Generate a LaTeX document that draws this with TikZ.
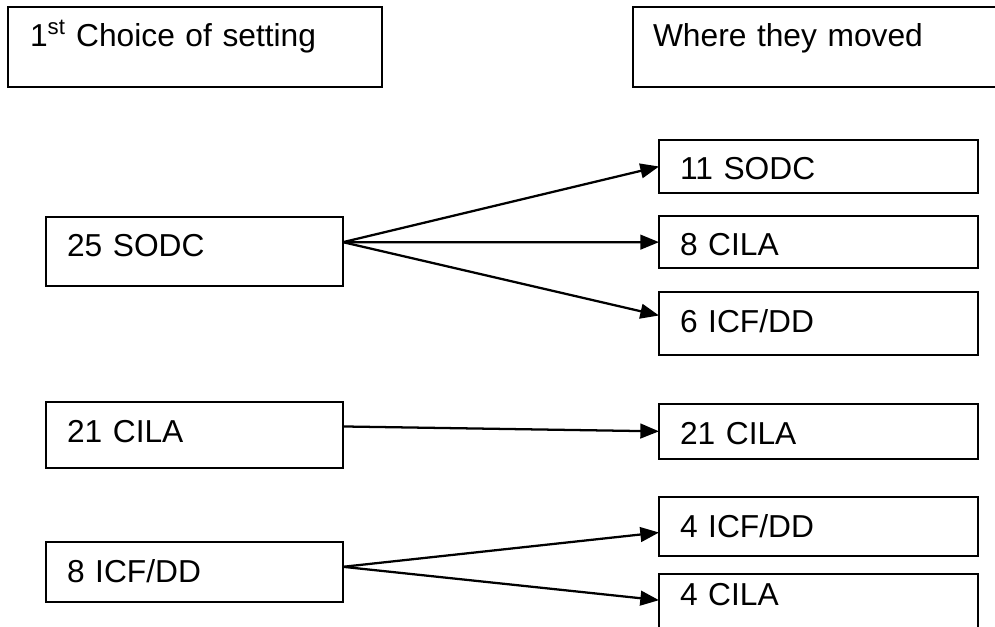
\documentclass[tikz,border=0pt]{standalone}
\usepackage{fontspec}
\setmainfont{Liberation Sans}
\usetikzlibrary{positioning, arrows.meta}

\begin{document}
\begin{tikzpicture}[x=0.75pt, y=-0.75pt,
  every node/.style={font=\fontsize{23.8pt}{28pt}\selectfont, inner ysep=0pt, outer sep=0pt},
  bnode/.style={draw, line width=1.5pt, anchor=north west, align=left, text height=30pt},
  lnode/.style={bnode, inner xsep=15.75pt, text width=191.25pt},
  rnode/.style={bnode, inner xsep=15.75pt, text width=207.75pt},
  hnode/.style={bnode, inner xsep=16.5pt, text width=247.5pt, text depth=30pt},
  arr/.style={-{Triangle[length=14pt, width=11pt]}, line width=1.7pt}
]
  \clip (0,0) rectangle (995,627);

  % Headers
  \node[hnode] (first) at (8,7) {1\textsuperscript{st} Choice of setting};
  \node[hnode, inner xsep=15pt, text width=252.75pt] (moved) at (633,7) {Where they moved};

  % Left: first choice
  \node[lnode, text depth=21.75pt] (sodc) at (46,217) {25 SODC};
  \node[lnode, text depth=19.5pt] (cila) at (46,402) {21 CILA};
  \node[lnode, text depth=15.2pt] (icf) at (46,542) {8 ICF/DD};

  % Right: where they moved
  \node[rnode, text depth=9.75pt] (sodcA) at (659,140) {11 SODC};
  \node[rnode, text depth=9.2pt] (cilaA) at (659,216) {8 CILA};
  \node[rnode, text depth=17.25pt] (icfA) at (659,292) {6 ICF/DD};
  \node[rnode, text depth=11pt] (cilaB) at (659,404) {21 CILA};
  \node[rnode, text depth=14.25pt] (icfC) at (659,497) {4 ICF/DD};
  \node[rnode, text height=23.25pt, text depth=20pt] (cilaC) at (659,574) {4 CILA};

  % Connections
  \draw[arr] ([yshift=7pt]sodc.east) -- (sodcA.west);
  \draw[arr] ([yshift=7pt]sodc.east) -- (cilaA.west);
  \draw[arr] ([yshift=7pt]sodc.east) -- ([yshift=6pt]icfA.west);
  \draw[arr] ([yshift=6.4pt]cila.east) -- (cilaB.west);
  \draw[arr] ([yshift=4pt]icf.east) -- ([yshift=-4.5pt]icfC.west);
  \draw[arr] ([yshift=4pt]icf.east) -- ([yshift=2pt]cilaC.west);
\end{tikzpicture}
\end{document}
